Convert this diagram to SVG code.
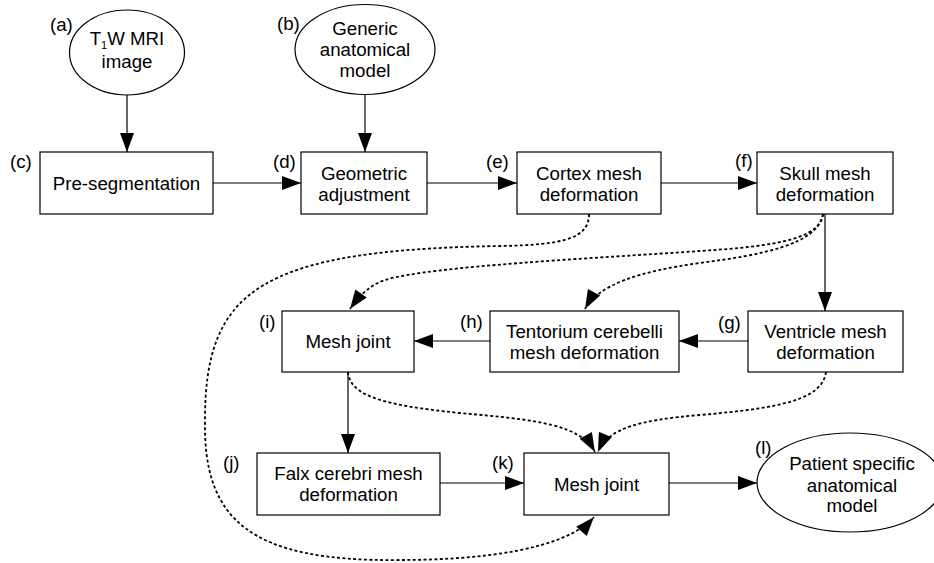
<svg xmlns="http://www.w3.org/2000/svg" width="934" height="563" viewBox="0 0 934 563">
<defs>
<marker id="ah" markerUnits="userSpaceOnUse" markerWidth="20" markerHeight="14" viewBox="0 0 19 14" refX="19" refY="7" orient="auto">
<path d="M0,0 L19,7 L0,14 z" fill="#000"/>
</marker>
<style>
text{font-family:"Liberation Sans",Arial,sans-serif;font-size:18.7px;fill:#000}
.c{text-anchor:middle}
.n{fill:#fff;stroke:#000;stroke-width:1.2}
.e{fill:none;stroke:#000;stroke-width:1.2;marker-end:url(#ah)}
.d{fill:none;stroke:#000;stroke-width:1.8;stroke-dasharray:3 2.4;marker-end:url(#ah)}
</style>
</defs>
<rect width="934" height="563" fill="#fff"/>
<g id="connectors">
<path class="e" d="M127,95 L127,152"/>
<path class="e" d="M365,94 L365,152"/>
<path class="e" d="M213,183 L301,183"/>
<path class="e" d="M427,183 L517,183"/>
<path class="e" d="M661,183 L757,183"/>
<path class="e" d="M825,214 L825,311"/>
<path class="e" d="M748,341 L679,341"/>
<path class="e" d="M490,341 L414,341"/>
<path class="e" d="M348,372 L348,453"/>
<path class="e" d="M440,483 L524,483"/>
<path class="e" d="M669,483 L757,483"/>
<path class="d" d="M589,214 C589,238 565,245 500,246 C260,250 205,290 205,420 C203,520 250,562 400,560 C480,560 565,550 594,517"/>
<path class="d" d="M823,214 C820,238 780,246 700,251 C600,258 430,266 385,280 C370,285 360,295 350,309"/>
<path class="d" d="M823,214 C818,245 760,255 700,263 C640,271 598,285 585,309"/>
<path class="d" d="M348,372 C350,395 380,405 460,413 C540,420 580,425 595,452"/>
<path class="d" d="M826,372 C822,400 780,408 700,415 C640,420 608,428 598,452"/>
</g>
<g id="node-a">
<ellipse class="n" cx="127" cy="52.5" rx="57.5" ry="42.5"/>
<text class="c" x="127" y="45">T<tspan font-size="11" dy="3.5">1</tspan><tspan dy="-3.5">W MRI</tspan></text>
<text class="c" x="127" y="68">image</text>
<text x="50" y="31">(a)</text>
</g>
<g id="node-b">
<ellipse class="n" cx="365" cy="49.5" rx="70" ry="45"/>
<text class="c" x="365" y="35">Generic</text>
<text class="c" x="365" y="56">anatomical</text>
<text class="c" x="365" y="77">model</text>
<text x="277" y="29.5">(b)</text>
</g>
<g id="node-c">
<rect class="n" x="40" y="152" width="173" height="62"/>
<text class="c" x="126.5" y="190">Pre-segmentation</text>
<text x="10" y="168">(c)</text>
</g>
<g id="node-d">
<rect class="n" x="301" y="152" width="126" height="62"/>
<text class="c" x="364" y="180">Geometric</text>
<text class="c" x="364" y="201">adjustment</text>
<text x="273" y="168">(d)</text>
</g>
<g id="node-e">
<rect class="n" x="517" y="152" width="144" height="62"/>
<text class="c" x="589" y="179.5">Cortex mesh</text>
<text class="c" x="589" y="201">deformation</text>
<text x="486" y="168">(e)</text>
</g>
<g id="node-f">
<rect class="n" x="757" y="152" width="136" height="62"/>
<text class="c" x="825" y="179.5">Skull mesh</text>
<text class="c" x="825" y="201">deformation</text>
<text x="735" y="167">(f)</text>
</g>
<g id="node-g">
<rect class="n" x="748" y="311" width="155" height="61"/>
<text class="c" x="825.5" y="338">Ventricle mesh</text>
<text class="c" x="825.5" y="359">deformation</text>
<text x="718" y="329">(g)</text>
</g>
<g id="node-h">
<rect class="n" x="490" y="311" width="189" height="61"/>
<text class="c" x="584.5" y="337.5">Tentorium cerebelli</text>
<text class="c" x="584.5" y="358.5">mesh deformation</text>
<text x="460" y="328">(h)</text>
</g>
<g id="node-i">
<rect class="n" x="282" y="311" width="132" height="61"/>
<text class="c" x="348" y="348">Mesh joint</text>
<text x="259" y="328">(i)</text>
</g>
<g id="node-j">
<rect class="n" x="257" y="453" width="183" height="62"/>
<text class="c" x="348.5" y="480">Falx cerebri mesh</text>
<text class="c" x="348.5" y="501">deformation</text>
<text x="223" y="469">(j)</text>
</g>
<g id="node-k">
<rect class="n" x="524" y="453" width="145" height="62"/>
<text class="c" x="596.5" y="491">Mesh joint</text>
<text x="492" y="469">(k)</text>
</g>
<g id="node-l">
<ellipse class="n" cx="850" cy="482.5" rx="93" ry="49.5"/>
<text class="c" x="852" y="470">Patient specific</text>
<text class="c" x="852" y="491.5">anatomical</text>
<text class="c" x="852" y="512">model</text>
<text x="755" y="454">(l)</text>
</g>
</svg>
